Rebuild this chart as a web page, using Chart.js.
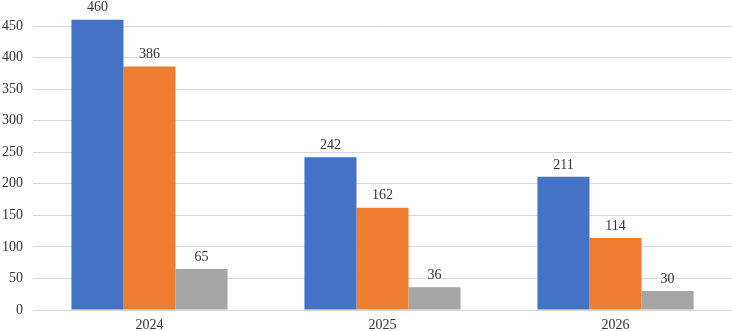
<!DOCTYPE html>
<html>
<head>
<meta charset="utf-8">
<script src="https://cdn.jsdelivr.net/npm/chart.js@4"></script>
<style>
  html, body { margin: 0; padding: 0; background: #fff; }
  #wrap { width: 732px; height: 331px; }
</style>
</head>
<body>
<div id="wrap"><canvas id="barChart"></canvas></div>
<script>
// ---------------- DATA ----------------
const years = ['2024', '2025', '2026'];
const serie1 = [460, 242, 211];
const serie2 = [386, 162, 114];
const serie3 = [65, 36, 30];
const yTicks = [0, 50, 100, 150, 200, 250, 300, 350, 400, 450];

// value labels on top of each bar
const topLabels = {
  id: 'topLabels',
  afterDatasetsDraw(chart) {
    const ctx = chart.ctx;
    ctx.save();
    ctx.font = '14px "Liberation Serif"';
    ctx.fillStyle = '#333333';
    ctx.textAlign = 'center';
    ctx.textBaseline = 'bottom';
    chart.data.datasets.forEach((ds, i) => {
      chart.getDatasetMeta(i).data.forEach((bar, j) => {
        ctx.fillText(ds.data[j], bar.x, bar.y - 5);
      });
    });
    ctx.restore();
  }
};

const barChart = new Chart(document.getElementById('barChart'), {
  type: 'bar',
  data: {
    labels: years,
    datasets: [
      { label: 'Series 1', data: serie1, backgroundColor: '#4472C4' },
      { label: 'Series 2', data: serie2, backgroundColor: '#ED7D31' },
      { label: 'Series 3', data: serie3, backgroundColor: '#A5A5A5' }
    ]
  },
  options: {
    responsive: true,
    maintainAspectRatio: false,
    animation: false,
    layout: { padding: { top: 26, right: 0, bottom: 0, left: 0 } },
    datasets: {
      bar: { categoryPercentage: 0.67, barPercentage: 1, clip: false }
    },
    plugins: {
      legend: { display: false },
      tooltip: { enabled: false }
    },
    scales: {
      x: {
        afterFit(scale) { scale.height = 21; },
        grid: { display: false, drawTicks: false },
        border: { color: '#d9d9d9' },
        ticks: {
          color: '#333333',
          font: { family: 'Liberation Serif', size: 14 },
          padding: 7
        }
      },
      y: {
        min: 0,
        max: 450,
        afterFit(scale) { scale.width = 33; },
        afterBuildTicks(scale) { scale.ticks = yTicks.map(v => ({ value: v })); },
        grid: { color: '#d9d9d9', drawTicks: false },
        border: { display: false },
        ticks: {
          color: '#333333',
          font: { family: 'Liberation Serif', size: 14 },
          padding: 10
        }
      }
    }
  },
  plugins: [topLabels]
});
</script>
</body>
</html>
